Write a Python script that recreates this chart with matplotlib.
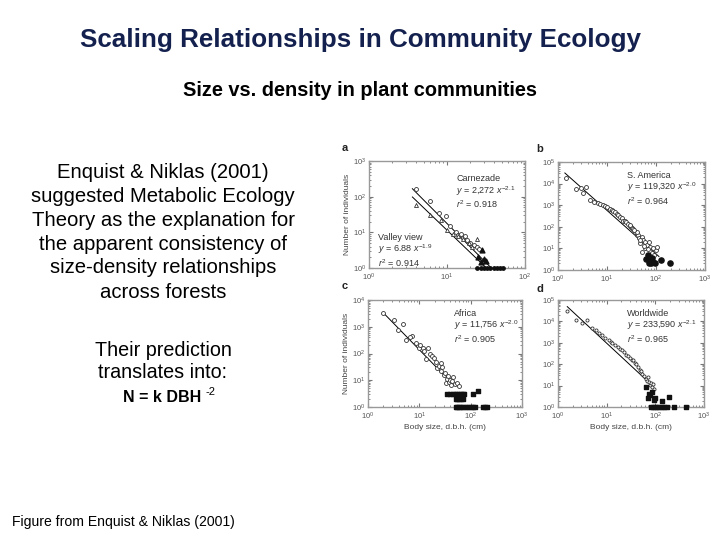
import matplotlib
matplotlib.use("Agg")
import matplotlib.pyplot as plt

plt.rcParams['font.family'] = ['Liberation Sans', 'DejaVu Sans']
plt.rcParams['mathtext.fontset'] = 'custom'
plt.rcParams['mathtext.rm'] = 'Liberation Sans'
plt.rcParams['mathtext.it'] = 'Liberation Sans:italic'
plt.rcParams['mathtext.bf'] = 'Liberation Sans:bold'

# ---- slide text ----
title = "Scaling Relationships in Community Ecology"
subtitle = "Size vs. density in plant communities"
body_lines = ["Enquist & Niklas (2001)",
              "suggested Metabolic Ecology",
              "Theory as the explanation for",
              "the apparent consistency of",
              "size-density relationships",
              "across forests"]
pred_lines = ["Their prediction", "translates into:"]
formula = "N = k DBH"
formula_exp = "-2"
source = "Figure from Enquist & Niklas (2001)"

# ---- panel a : Carnezade (circles) and Valley view (triangles) ----
a_circ_x = [4.0, 6.1, 7.9, 9.8, 11, 13, 14, 15, 16, 17, 18, 20, 22, 24, 26]
a_circ_y = [160, 76, 35, 28, 15, 10, 8.5, 9, 7, 8, 6, 5, 4.5, 4, 3.5]
a_tri_x = [4.0, 6.0, 8.3, 10, 12, 14, 16, 19, 24, 21]
a_tri_y = [60, 30, 22, 12, 9, 8, 6.5, 5, 6.6, 4]
a_ftri_x = [28, 25, 30, 27, 32]
a_ftri_y = [3.2, 2.0, 1.8, 1.5, 1.6]
a_dot_x = [24, 27, 30, 33, 36, 40, 44, 48, 52]
a_dot_y = [1, 1, 1, 1, 1, 1, 1, 1, 1]
a_fit1_x = [3.6, 37]
a_fit1_y = [167, 1.0]
a_fit2_x = [3.6, 32]
a_fit2_y = [98, 1.0]

# ---- panel b : S. America ----
b_open_x = [1.48, 2.3, 2.9, 3.8, 3.2, 4.5, 5.5, 6.5, 7.2, 8.2, 9.1, 10, 11.5, 12.5,
            13.5, 14.8, 16, 17, 18.6, 20, 21.5, 23.4, 25, 27, 28.8, 31, 33, 34.7,
            37, 40.7, 43, 45, 48, 52, 55, 60, 60, 65, 71, 76, 83, 98, 105, 52,
            48, 40, 36, 30, 58, 68, 88, 92]
b_open_y = [18000, 5600, 6100, 6900, 3600, 1800, 1400, 1250, 1150, 1050, 960, 820,
            680, 600, 530, 470, 400, 340, 280, 250, 190, 195, 170, 140, 110, 100,
            92, 83, 60, 44, 40, 29, 17, 34, 25, 19, 10, 14, 19, 12, 6, 8, 12, 7,
            24, 55, 70, 120, 13, 9, 10, 5]
b_fill_x = [63, 76, 83, 95, 72, 124, 190, 69, 88, 80]
b_fill_y = [3.3, 2.6, 3.7, 2, 2, 2.9, 2, 5, 2.3, 2]
b_fit_x = [1.38, 115]
b_fit_y = [31000, 4.2]

# ---- panel c : Africa ----
c_open_x = [2.0, 3.2, 4.8, 3.8, 5.6, 7.2, 6.5, 8.5, 9.8, 10.5, 11.7, 12.5, 14.5,
            13.2, 16, 17.8, 19, 21, 22, 24, 26, 27, 28, 30, 32, 33, 35, 36, 38,
            40, 41, 44, 45, 50, 55, 60]
c_open_y = [3200, 1800, 1230, 760, 320, 460, 400, 250, 160, 200, 160, 120, 155,
            65, 100, 81, 70, 49, 28, 35, 43, 22, 32, 15.5, 18, 7.6, 11.5, 14,
            8.7, 10, 6.5, 9, 13.5, 7, 8, 6.2]
c_fill_x = [35, 40, 45, 50, 55, 60, 65, 70, 75,
            51, 55, 60, 65, 70,
            51, 55, 60, 65, 70, 80, 90, 100, 110, 120, 175, 190, 210,
            112, 138]
c_fill_y = [3, 3, 3, 3, 3, 3, 3, 3, 3,
            2, 2, 2, 2, 2,
            1, 1, 1, 1, 1, 1, 1, 1, 1, 1, 1, 1, 1,
            3, 4]
c_fit_x = [2.04, 38]
c_fit_y = [3160, 10]

# ---- panel d : Worldwide ----
d_open_x = [1.55, 2.3, 3.1, 3.9, 4.9, 5.9, 6.8, 7.9, 9.3, 11, 12.5, 13, 15, 17,
            19, 21, 23, 25, 28, 30, 33, 35, 38, 40, 45, 48, 50, 54, 58, 63, 66,
            70, 74, 78, 82, 87, 90, 95]
d_open_y = [30000, 11500, 8000, 11500, 4700, 3900, 3000, 2300, 1700, 1350, 1100,
            1000, 780, 620, 520, 460, 380, 265, 240, 190, 160, 155, 110, 100, 75,
            55, 48, 36, 28, 21, 16, 25, 15, 11, 13, 8.7, 12, 7]
d_fill_x = [63, 79, 87, 71, 100, 190, 138, 92, 75,
            80, 90, 100, 110, 120, 135, 150, 175, 240, 420]
d_fill_y = [8.7, 3.5, 5, 2.6, 2.5, 2.9, 1.9, 2.2, 4,
            1, 1, 1, 1, 1, 1, 1, 1, 1, 1]
d_fit_x = [1.55, 85]
d_fit_y = [49000, 10.5]

fig = plt.figure(figsize=(7.2, 5.4), dpi=100)

fig.text(0.5, 1 - 40 / 540, title, ha='center', va='center', fontsize=18.7,
         fontweight='bold', color='#14214f')
fig.text(0.5, 1 - 91 / 540, subtitle, ha='center', va='center', fontsize=14.4,
         fontweight='bold', color='black')
for i, line in enumerate(body_lines):
    fig.text(163 / 720, 1 - (172 + 24 * i) / 540, line, ha='center', va='center',
             fontsize=14.6, color='black')
for i, line in enumerate(pred_lines):
    fig.text(163 / 720, 1 - (350 + 23 * i) / 540, line, ha='center', va='center',
             fontsize=14.2, color='black')
fig.text(201 / 720, 1 - 397 / 540, formula, ha='right', va='center',
         fontsize=11.5, fontweight='bold', color='black')
fig.text(205 / 720, 1 - 392 / 540, formula_exp, ha='left', va='center',
         fontsize=8, color='black')
fig.text(12 / 720, 1 - 522 / 540, source, ha='left', va='center', fontsize=10.1,
         color='black')


def make_axes(rect, xlim, ylim):
    ax = fig.add_axes(rect)
    ax.set_xscale('log')
    ax.set_yscale('log')
    ax.set_xlim(*xlim)
    ax.set_ylim(*ylim)
    for s in ax.spines.values():
        s.set_color('#999999')
        s.set_linewidth(1.0)
    ax.tick_params(which='both', direction='in', top=True, right=True,
                   colors='#777777', labelsize=5.5, labelcolor='#555555')
    ax.tick_params(axis='x', pad=3)
    ax.tick_params(axis='y', pad=2)
    ax.tick_params(which='major', length=3)
    ax.tick_params(which='minor', length=1.5)
    return ax


# panel rectangles from pixel positions
ax_a = make_axes([369 / 720, 1 - 268 / 540, 156 / 720, 107 / 540], (1, 100), (1, 1000))
ax_b = make_axes([558 / 720, 1 - 270 / 540, 147 / 720, 108 / 540], (1, 1000), (1, 1e5))
ax_c = make_axes([368 / 720, 1 - 407 / 540, 154 / 720, 107 / 540], (1, 1000), (1, 1e4))
ax_d = make_axes([558 / 720, 1 - 407 / 540, 146 / 720, 107 / 540], (1, 1000), (1, 1e5))

ms = dict(s=8, linewidths=0.6, clip_on=False, zorder=3)

ax_a.plot(a_fit1_x, a_fit1_y, color='black', lw=0.7)
ax_a.plot(a_fit2_x, a_fit2_y, color='black', lw=0.7)
ax_a.scatter(a_circ_x, a_circ_y, facecolors='white', edgecolors='#333333', marker='o', **ms)
ax_a.scatter(a_tri_x, a_tri_y, facecolors='white', edgecolors='#333333', marker='^', **ms)
ax_a.scatter(a_ftri_x, a_ftri_y, color='#111111', marker='^', s=12, clip_on=False, zorder=3)
ax_a.scatter(a_dot_x, a_dot_y, color='#111111', marker='o', s=6, clip_on=False, zorder=3)

ax_b.plot(b_fit_x, b_fit_y, color='black', lw=0.7)
ax_b.scatter(b_open_x, b_open_y, facecolors='white', edgecolors='#333333', marker='o', **ms)
ax_b.scatter(b_fill_x, b_fill_y, color='#111111', marker='o', s=14, clip_on=False, zorder=3)

ax_c.plot(c_fit_x, c_fit_y, color='black', lw=0.7)
ax_c.scatter(c_open_x, c_open_y, facecolors='white', edgecolors='#333333', marker='o', **ms)
ax_c.scatter(c_fill_x, c_fill_y, color='#111111', marker='s', s=6, clip_on=False, zorder=3)

ax_d.plot(d_fit_x, d_fit_y, color='black', lw=0.7)
ax_d.scatter(d_open_x, d_open_y, facecolors='white', edgecolors='#333333', marker='o', s=5,
             linewidths=0.6, clip_on=False, zorder=3)
ax_d.scatter(d_fill_x, d_fill_y, color='#111111', marker='s', s=7, clip_on=False, zorder=3)

# fit annotations
fs = 6.5
ax_a.text(0.56, 0.88, "Carnezade\n$y$ = 2,272 $x^{-2.1}$\n$r^2$ = 0.918", transform=ax_a.transAxes,
          fontsize=fs, color='#333333', va='top', linespacing=1.1)
ax_a.text(0.06, 0.33, "Valley view\n$y$ = 6.88 $x^{-1.9}$\n$r^2$ = 0.914", transform=ax_a.transAxes,
          fontsize=fs, color='#333333', va='top', linespacing=1.1)
ax_b.text(0.47, 0.92, "S. America\n$y$ = 119,320 $x^{-2.0}$\n$r^2$ = 0.964", transform=ax_b.transAxes,
          fontsize=fs, color='#333333', va='top', linespacing=1.1)
ax_c.text(0.56, 0.92, "Africa\n$y$ = 11,756 $x^{-2.0}$\n$r^2$ = 0.905", transform=ax_c.transAxes,
          fontsize=fs, color='#333333', va='top', linespacing=1.1)
ax_d.text(0.47, 0.92, "Worldwide\n$y$ = 233,590 $x^{-2.1}$\n$r^2$ = 0.965", transform=ax_d.transAxes,
          fontsize=fs, color='#333333', va='top', linespacing=1.1)

# panel letters
for lab, (px, py) in zip("abcd", [(345, 148), (540, 149), (345, 286), (540, 289)]):
    fig.text(px / 720, 1 - py / 540, lab, fontsize=8, fontweight='bold', color='#222222',
             ha='center', va='center')

for ax in (ax_a, ax_c):
    ax.set_ylabel("Number of individuals", fontsize=6, color='#444444', labelpad=1)
for ax in (ax_c, ax_d):
    ax.set_xlabel("Body size, d.b.h. (cm)", fontsize=6, color='#444444', labelpad=1)

fig.savefig("out.png", dpi=100)
